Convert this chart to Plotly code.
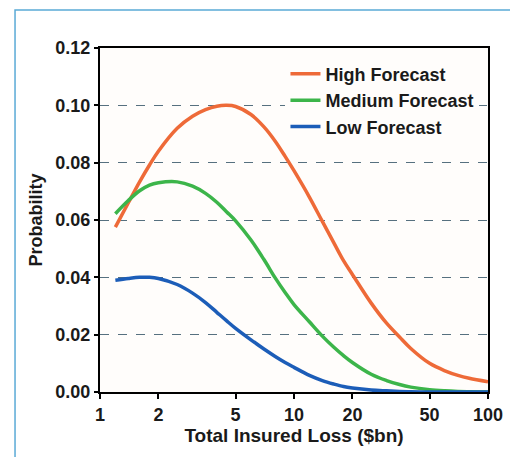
import plotly.graph_objects as go

# Data (x: total insured loss $bn, y: probability)
loss_x = [1.2, 1.4, 1.6, 1.8, 2.0, 2.5, 3.0, 3.5, 4.0, 4.5, 5.0, 6.0, 7.0, 8.0, 9.0, 10, 12, 14, 16, 18, 20, 25, 30, 35, 40, 50, 60, 70, 80, 100]

high_y = [0.0575, 0.0660, 0.0733, 0.0792, 0.0840, 0.0920, 0.0962, 0.0985, 0.0997, 0.1000, 0.0996, 0.0968, 0.0925, 0.0875, 0.0822, 0.0772, 0.0680, 0.0595, 0.0522, 0.0458, 0.0410, 0.0310, 0.0240, 0.0192, 0.0152, 0.0100, 0.0074, 0.0058, 0.0048, 0.0036]

med_y = [0.0622, 0.0668, 0.0702, 0.0722, 0.0730, 0.0733, 0.0718, 0.0693, 0.0662, 0.0628, 0.0597, 0.0530, 0.0462, 0.0398, 0.0347, 0.0305, 0.0245, 0.0195, 0.0157, 0.0127, 0.0103, 0.0062, 0.0040, 0.0026, 0.0017, 0.0008, 0.0004, 0.0002, 0.0001, 0.0]

low_y = [0.0390, 0.0396, 0.0400, 0.0400, 0.0396, 0.0375, 0.0345, 0.0312, 0.0278, 0.0248, 0.0222, 0.0182, 0.0150, 0.0124, 0.0103, 0.0086, 0.0058, 0.0040, 0.0028, 0.0019, 0.0014, 0.0007, 0.0004, 0.0002, 0.0001, 0.0, 0.0, 0.0, 0.0, 0.0]

series_names = ["High Forecast", "Medium Forecast", "Low Forecast"]
series_colors = ["#ee6a38", "#3cb54a", "#1c5db8"]

x_ticks = [1, 2, 5, 10, 20, 50, 100]
y_ticks = [0.00, 0.02, 0.04, 0.06, 0.08, 0.10, 0.12]

FONT = "Liberation Sans, Arial, Helvetica, sans-serif"
TXT = "#1a1a1a"
BG = "#fffdfb"

fig = go.Figure()
for name, ys, col in zip(series_names, [high_y, med_y, low_y], series_colors):
    fig.add_trace(go.Scatter(x=loss_x, y=ys, mode="lines", name=name,
                             line=dict(color=col, width=3.5, shape="spline", smoothing=1.0)))

fig.update_layout(
    width=510, height=449,
    margin=dict(l=92, r=30, t=40, b=65),
    paper_bgcolor="white",
    plot_bgcolor=BG,
    font=dict(family=FONT, color=TXT),
    showlegend=True,
    legend=dict(x=0.478, y=0.978, xanchor="left", yanchor="top",
                bgcolor=BG, borderwidth=0,
                font=dict(family=FONT, size=18, weight="bold", color=TXT),
                tracegroupgap=0, itemwidth=30),
    shapes=[dict(type="rect", xref="paper", yref="paper",
                 x0=-0.219, x1=1.067, y0=-0.3, y1=1.1105,
                 line=dict(color="#5aaad6", width=1.5), fillcolor="rgba(0,0,0,0)",
                 layer="below")],
)

fig.update_xaxes(
    type="log", range=[0, 2],
    tickvals=x_ticks, ticktext=[str(v) for v in x_ticks],
    ticks="outside", ticklen=5, tickwidth=2, tickcolor="black",
    showline=True, linecolor="black", linewidth=2, mirror=True,
    showgrid=False, zeroline=False,
    tickfont=dict(family=FONT, size=18, weight="bold", color=TXT),
    title=dict(text="Total Insured Loss ($bn)", standoff=4,
               font=dict(family=FONT, size=19, weight="bold", color=TXT)),
)
fig.update_yaxes(
    range=[0, 0.12],
    tickvals=y_ticks, ticktext=[f"{v:.2f}" for v in y_ticks],
    ticks="outside", ticklen=4, tickwidth=2, tickcolor="black",
    showline=True, linecolor="black", linewidth=2, mirror=True,
    showgrid=True, gridcolor="#56707f", gridwidth=1, griddash="dash",
    zeroline=False,
    tickfont=dict(family=FONT, size=18, weight="bold", color=TXT),
    title=dict(text="Probability", standoff=8,
               font=dict(family=FONT, size=18, weight="bold", color=TXT)),
)

fig.write_html("out.html")
